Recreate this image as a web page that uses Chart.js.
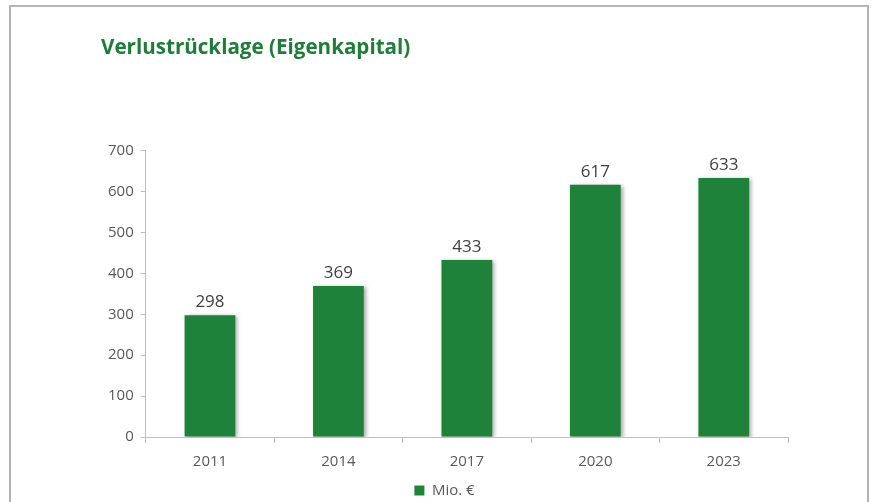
<!DOCTYPE html>
<html>
<head>
<meta charset="utf-8">
<script src="https://cdn.jsdelivr.net/npm/chart.js@4/dist/chart.umd.min.js"></script>
<style>
  html, body { margin: 0; padding: 0; background: #fff; }
  .frame {
    position: absolute; left: 9px; top: 5px;
    width: 860px; height: 520px;
    border: 2px solid #b4b4b4; box-sizing: border-box;
  }
  .frame canvas { position: absolute; left: 0; top: 0; }
</style>
</head>
<body>
<div class="frame"><canvas id="chart" width="856" height="516"></canvas></div>
<script>
/* Daten */
var years = ['2011', '2014', '2017', '2020', '2023'];
var values = [298, 369, 433, 617, 633];
var seriesName = 'Mio. €';
var yTicks = [0, 100, 200, 300, 400, 500, 600, 700];

var green = '#1e823a';
var grey = '#595959';

/* Werte über den Balken */
var barLabels = {
    id: 'barLabels',
    afterDatasetsDraw: function (chart) {
        var ctx = chart.ctx;
        var meta = chart.getDatasetMeta(0);
        ctx.save();
        ctx.font = '17px "Open Sans"';
        ctx.fillStyle = '#404040';
        ctx.textAlign = 'center';
        ctx.textBaseline = 'bottom';
        meta.data.forEach(function (bar, i) {
            ctx.fillText(chart.data.datasets[0].data[i], bar.x, bar.y - 4);
        });
        ctx.restore();
    }
};

/* leichter Schatten für die Balken */
var barShadow = {
    id: 'barShadow',
    beforeDatasetsDraw: function (chart) {
        var ctx = chart.ctx;
        ctx.save();
        ctx.shadowColor = 'rgba(0,0,0,0.35)';
        ctx.shadowBlur = 4;
        ctx.shadowOffsetX = 2;
        ctx.shadowOffsetY = 1;
    },
    afterDatasetsDraw: function (chart) {
        chart.ctx.restore();
    }
};

var ctx = document.getElementById('chart').getContext('2d');
var chart = new Chart(ctx, {
    type: 'bar',
    data: {
        labels: years,
        datasets: [{
            label: seriesName,
            data: values,
            backgroundColor: green,
            barPercentage: 0.79,
            categoryPercentage: 0.5
        }]
    },
    options: {
        responsive: false,
        animation: false,
        layout: { padding: { left: 90, right: 79, top: 0, bottom: 15 } },
        plugins: {
            title: {
                display: true,
                text: 'Verlustrücklage (Eigenkapital)',
                align: 'start',
                color: '#1e7d38',
                font: { family: '"Open Sans"', size: 20.6, weight: 'bold' },
                padding: { top: 29, bottom: 90 }
            },
            legend: {
                position: 'bottom',
                labels: {
                    color: grey,
                    font: { family: '"Open Sans"', size: 15 },
                    boxWidth: 10,
                    boxHeight: 10,
                    padding: 2
                }
            },
            tooltip: { enabled: false }
        },
        scales: {
            x: {
                grid: { drawOnChartArea: false, drawTicks: true, tickLength: 6, color: '#bfbfbf' },
                border: { color: '#bfbfbf' },
                ticks: { color: grey, font: { family: '"Open Sans"', size: 15 }, padding: 10 }
            },
            y: {
                min: 0,
                max: 700,
                afterBuildTicks: function (axis) {
                    axis.ticks = yTicks.map(function (v) { return { value: v }; });
                },
                grid: { drawOnChartArea: false, drawTicks: true, tickLength: 5, color: '#bfbfbf' },
                border: { color: '#bfbfbf' },
                ticks: { color: grey, font: { family: '"Open Sans"', size: 15 }, padding: 7 }
            }
        }
    },
    plugins: [barShadow, barLabels]
});
</script>
</body>
</html>
